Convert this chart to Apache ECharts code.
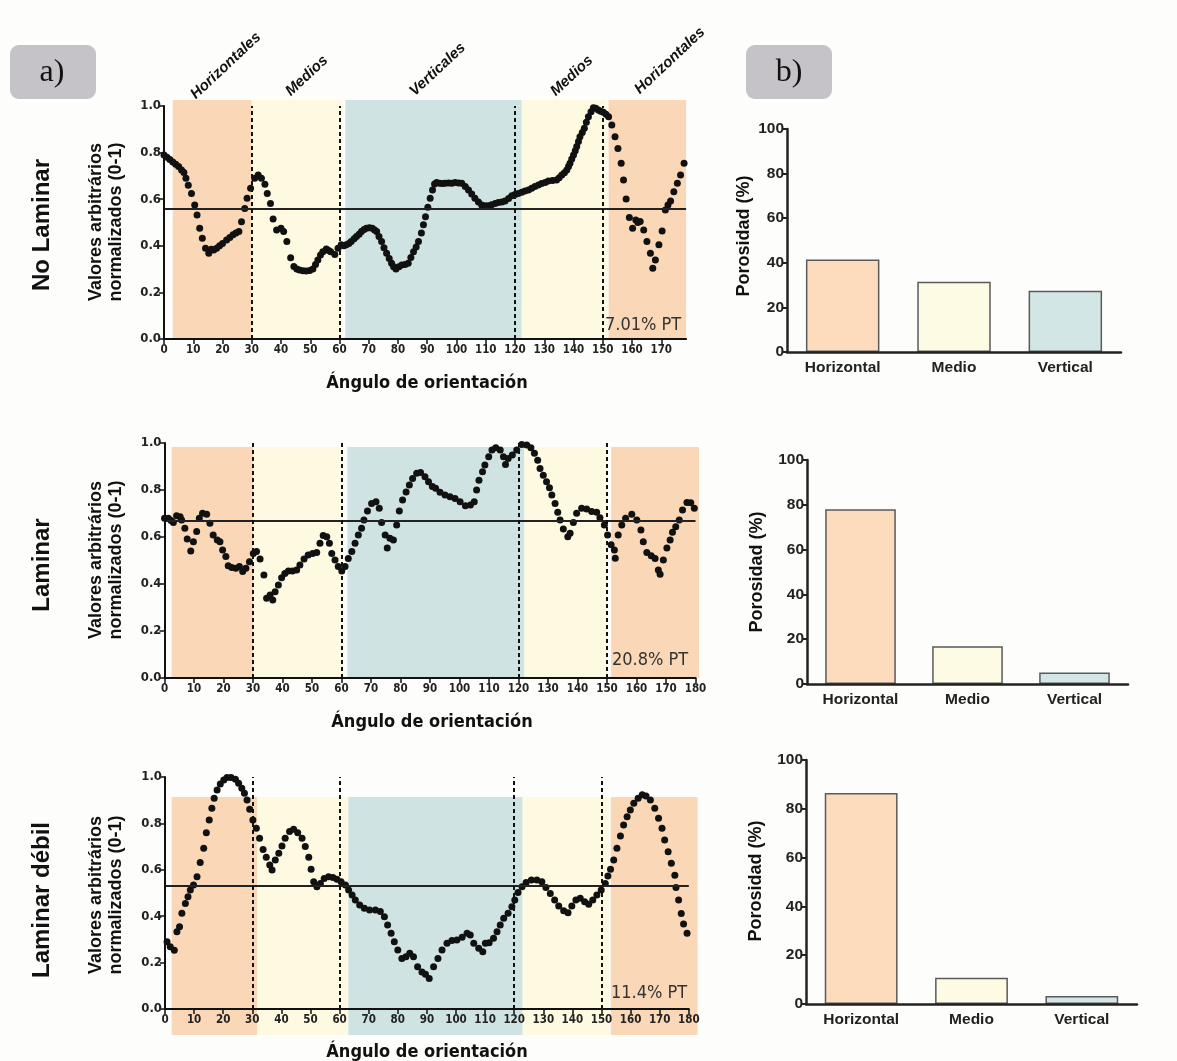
<!DOCTYPE html>
<html>
<head>
<meta charset="utf-8">
<script src="https://cdn.jsdelivr.net/npm/echarts@6/dist/echarts.min.js"></script>
<style>
  html, body { margin: 0; padding: 0; background: #fdfdfc; }
  #chart { width: 1177px; height: 1061px; }
</style>
</head>
<body>
<div id="chart"></div>
<script>
// ---- data: [angle, normalized value] ----
const noLaminar = [
  [0,0.79],[1,0.78],[2,0.77],[3,0.76],[4,0.75],[5,0.74],[6,0.725],[6.8,0.715],[7.5,0.69],[8.3,0.66],[9.4,0.625],[10.5,0.575],
  [11.3,0.532],[12.2,0.475],[13.1,0.432],[14.2,0.39],[15.3,0.368],[16.2,0.385],[17,0.382],[18,0.39],[19,0.40],[20,0.41],
  [21.4,0.425],[22.5,0.436],[23.6,0.447],[24.6,0.455],[25.6,0.461],[26.5,0.503],[27.6,0.56],[28.4,0.604],[29.6,0.647],
  [31,0.69],[32.2,0.704],[33.3,0.69],[34.5,0.664],[35.3,0.625],[36.4,0.582],[37.3,0.515],[38.5,0.468],[40,0.475],[40.9,0.461],
  [42,0.418],[43.3,0.349],[44.4,0.311],[45.4,0.30],[46.3,0.296],[47.5,0.293],[48.6,0.292],[49.8,0.294],[50.9,0.30],[51.8,0.32],
  [52.6,0.339],[53.5,0.36],[54.3,0.375],[55.5,0.386],[56.3,0.38],[57,0.375],[58.4,0.363],[59.5,0.389],[60.6,0.404],[61.5,0.40],
  [62.3,0.404],[63.2,0.41],[64,0.418],[65,0.43],[65.8,0.44],[66.7,0.45],[67.5,0.461],[68.4,0.47],[69.2,0.475],[70.2,0.478],
  [71.2,0.475],[72,0.468],[72.7,0.461],[73.5,0.44],[74.4,0.418],[75.2,0.392],[76.1,0.368],[77,0.345],[77.8,0.325],[78.5,0.31],
  [79.3,0.30],[80.3,0.31],[81.3,0.318],[82.4,0.32],[83.5,0.325],[84.4,0.35],[85.3,0.375],[86.2,0.395],[87,0.418],[88,0.455],
  [88.7,0.49],[89.4,0.525],[90.2,0.565],[91,0.604],[91.8,0.64],[92.5,0.665],[93.2,0.672],[94.2,0.668],[95.2,0.667],[96.1,0.668],
  [97.3,0.67],[98.4,0.668],[99.5,0.672],[100.7,0.67],[101.8,0.668],[103,0.655],[104.1,0.64],[105.2,0.622],[106.3,0.604],
  [107.5,0.588],[108.6,0.575],[109.8,0.572],[110.9,0.572],[112,0.576],[113.2,0.582],[114.3,0.586],[115.5,0.588],[116.6,0.592],
  [117.8,0.603],[118.9,0.615],[120,0.62],[121.1,0.625],[122.3,0.63],[123.4,0.635],[124.6,0.64],[125.7,0.647],[126.8,0.654],
  [128,0.661],[129.1,0.667],[130.3,0.672],[131.4,0.678],[132.8,0.68],[134.2,0.682],[135.1,0.692],[136,0.704],[136.9,0.714],
  [137.7,0.725],[138.3,0.74],[138.8,0.754],[139.4,0.772],[140,0.79],[140.6,0.808],[141.1,0.826],[141.7,0.848],[142.2,0.868],
  [143,0.886],[143.7,0.904],[144.4,0.93],[145.1,0.954],[146,0.975],[146.8,0.993],[147.6,0.99],[148.5,0.983],[149.3,0.978],
  [150.2,0.973],[151.1,0.965],[152,0.954],[153.1,0.918],[154.2,0.868],[155.2,0.818],[156.3,0.754],[157.1,0.682],[158,0.601],
  [159.1,0.521],[160.2,0.475],[161.3,0.511],[162,0.50],[162.8,0.504],[164,0.468],[165.1,0.418],[166.3,0.368],[167.1,0.304],
  [168,0.339],[169.2,0.404],[170.3,0.464],[171.4,0.554],[172.3,0.575],[173.2,0.592],[174.3,0.632],[175.5,0.668],[176.6,0.704],
  [177.8,0.754]
];
const laminar = [
  [0,0.68],[1.3,0.68],[2.2,0.67],[3,0.662],[4.1,0.69],[5.3,0.686],[5.8,0.672],[6.9,0.637],[7.7,0.592],[8.9,0.54],[9.8,0.58],
  [10.9,0.623],[11.8,0.68],[12.9,0.701],[14.3,0.697],[15.4,0.658],[16.5,0.609],[17.9,0.587],[18.8,0.58],[19.7,0.545],
  [20.8,0.517],[21.6,0.478],[22.8,0.47],[24.2,0.467],[25.4,0.474],[26.5,0.453],[27.6,0.467],[28.8,0.495],[30.1,0.53],
  [31.2,0.538],[32.4,0.506],[33.7,0.438],[34.6,0.339],[35.8,0.353],[36.7,0.332],[37.5,0.367],[38.6,0.396],[39.7,0.427],
  [40.8,0.445],[42,0.455],[43.4,0.455],[44.8,0.46],[45.9,0.481],[47.3,0.506],[48.7,0.523],[50.2,0.53],[51.6,0.534],
  [52.7,0.573],[53.8,0.606],[55,0.601],[55.9,0.573],[56.7,0.53],[57.8,0.502],[58.9,0.474],[60.1,0.455],[61.2,0.474],
  [62.3,0.509],[63.5,0.538],[64.6,0.573],[65.7,0.609],[66.8,0.637],[67.6,0.672],[68.8,0.711],[70.2,0.743],[71.7,0.75],
  [72.8,0.722],[73.6,0.662],[74.8,0.609],[75.5,0.553],[76.4,0.595],[77.6,0.587],[78.7,0.651],[79.6,0.711],[80.7,0.757],
  [81.9,0.792],[83,0.821],[84.1,0.849],[85.5,0.871],[86.8,0.875],[88.3,0.856],[89.5,0.835],[90.8,0.815],[91.9,0.807],
  [93.4,0.79],[95.1,0.779],[96.8,0.771],[98.5,0.764],[100.2,0.75],[102,0.733],[103.7,0.736],[105,0.75],[105.8,0.8],
  [106.6,0.842],[107.8,0.878],[108.6,0.906],[109.9,0.941],[111,0.97],[112.3,0.98],[113.8,0.97],[114.9,0.941],[115.6,0.909],
  [116.5,0.934],[117.9,0.949],[119.4,0.97],[121.1,0.994],[122.8,0.991],[124.2,0.98],[125.4,0.956],[126.5,0.927],
  [127.3,0.892],[128.4,0.863],[129.5,0.835],[130.5,0.81],[131.3,0.779],[132.4,0.743],[133.3,0.705],[134.1,0.672],
  [135.2,0.634],[136.7,0.601],[137.5,0.616],[138.6,0.662],[139.7,0.701],[141.4,0.722],[143.1,0.719],[144.8,0.708],
  [146.5,0.705],[147.6,0.682],[149.1,0.651],[150.2,0.609],[151.4,0.567],[152.5,0.545],[152.8,0.51],[153.8,0.609],
  [155,0.651],[156.3,0.68],[158.4,0.697],[160.1,0.672],[161.5,0.63],[162.3,0.58],[163.5,0.534],[165,0.52],[166.3,0.509],
  [167.4,0.46],[168,0.441],[169.1,0.502],[170.3,0.553],[171.4,0.587],[172.2,0.62],[173.3,0.644],[174.5,0.672],
  [175.6,0.715],[177.1,0.747],[178.4,0.746],[179.6,0.722],[180.3,0.69]
];
const laminarDebil = [
  [0.7,0.29],[1.8,0.268],[3.2,0.253],[4.1,0.333],[5,0.355],[5.8,0.413],[7,0.455],[7.9,0.484],[8.7,0.513],[9.8,0.535],
  [11,0.57],[12.1,0.631],[13.3,0.693],[14.2,0.76],[15.2,0.815],[16.1,0.865],[16.9,0.908],[17.9,0.944],[19,0.97],
  [20.2,0.987],[21.3,0.998],[22.7,0.998],[24.2,0.99],[25.3,0.973],[26.4,0.951],[27.3,0.93],[28.2,0.901],[29.1,0.861],
  [30.2,0.815],[31.4,0.779],[32.5,0.736],[33.7,0.688],[34.8,0.654],[36,0.621],[36.8,0.599],[37.9,0.642],[39.1,0.671],
  [40.2,0.703],[41.3,0.736],[42.8,0.765],[44.2,0.775],[45.6,0.76],[47.1,0.736],[48.2,0.7],[49.4,0.654],[50.2,0.602],
  [51.1,0.549],[52.2,0.527],[53.4,0.541],[54.7,0.563],[56.2,0.57],[57.7,0.567],[59.1,0.559],[60.5,0.549],[62,0.535],
  [63.1,0.513],[64.3,0.491],[65.4,0.47],[66.9,0.448],[68.5,0.434],[70.3,0.427],[72.3,0.427],[74,0.42],[75.4,0.398],
  [76.5,0.362],[77.7,0.326],[78.8,0.29],[80,0.254],[81.4,0.218],[82.8,0.225],[84.1,0.24],[85.4,0.225],[86.8,0.182],
  [88.3,0.16],[89.5,0.15],[90.8,0.131],[92.3,0.182],[93.8,0.218],[95.2,0.254],[96.9,0.283],[98.6,0.295],[100.3,0.297],
  [102.1,0.309],[103.8,0.326],[104.9,0.319],[106.1,0.283],[107.8,0.262],[109.2,0.247],[110.1,0.283],[111.4,0.286],
  [112.9,0.305],[114.1,0.333],[115.2,0.362],[116.4,0.391],[117.9,0.413],[119.2,0.441],[120.2,0.47],[121.3,0.502],
  [122.7,0.527],[124.1,0.545],[125.9,0.556],[127.8,0.556],[129.5,0.549],[130.9,0.524],[132.4,0.498],[133.9,0.47],
  [135.3,0.444],[137,0.424],[138.5,0.415],[139.8,0.444],[141.2,0.47],[142.7,0.477],[144.2,0.462],[145.6,0.451],
  [147,0.47],[148.4,0.491],[149.9,0.513],[151.3,0.541],[152.2,0.573],[153.1,0.602],[154.2,0.642],[155.3,0.693],
  [156.5,0.746],[157.6,0.793],[158.8,0.829],[159.9,0.858],[161.1,0.887],[162.6,0.908],[164,0.923],[165.3,0.918],
  [166.8,0.901],[168.3,0.865],[169.6,0.822],[170.8,0.779],[171.7,0.728],[172.9,0.678],[174,0.628],[175.2,0.577],
  [175.6,0.524],[176.5,0.47],[177.4,0.412],[178.2,0.366],[179.4,0.326],[180.2,0.312]
];

// mean line of each profile
const meanLines = [0.56, 0.665, 0.53];
// dashed separators between orientation classes
const separators = [30, 60, 120, 150];
// shaded orientation classes per panel: [start, end, class]
const bands = [
  [[3, 30, 0], [30, 61, 1], [62, 122.3, 2], [122.3, 151.3, 1], [152, 178.5, 0]],
  [[2.4, 30, 0], [30, 60.4, 1], [62, 122, 2], [122, 150.2, 1], [151.4, 181.2, 0]],
  [[2.3, 31.7, 0], [31.7, 63, 1], [63, 122.9, 2], [122.9, 152.7, 1], [153.2, 183, 0]]
];
const ptLabels = ['7.01% PT', '20.8% PT', '11.4% PT'];
const rowLabels = ['No Laminar', 'Laminar', 'Laminar débil'];
const topLabels = ['Horizontales', 'Medios', 'Verticales', 'Medios', 'Horizontales'];

// porosity bars
const barCategories = ['Horizontal', 'Medio', 'Vertical'];
const porosity = [
  [41.5, 31.5, 27.5],
  [78, 16.9, 5.1],
  [86.5, 10.8, 3.3]
];

const bandColors = ['#fad7b6', '#fefae1', '#cfe3e2'];
const barColors = ['#fddcbd', '#fefbe4', '#d3e6e6'];

const narrow = '"Liberation Sans Narrow", "DejaVu Sans Condensed", sans-serif';
const sans = '"Liberation Sans", Arial, sans-serif';

// layout of the three profile plots
const plots = [
  { left: 164, top: 106, ppd: 2.925, height: 233, max: 178.5, bandTop: 100, bandBottom: 339 },
  { left: 164.5, top: 443, ppd: 2.95, height: 235, max: 180, bandTop: 447, bandBottom: 678 },
  { left: 165, top: 777, ppd: 2.91, height: 232, max: 180, bandTop: 797, bandBottom: 1035 }
];
const barGrids = [
  { left: 787, top: 129, width: 334, height: 223 },
  { left: 807, top: 460, width: 321, height: 224 },
  { left: 806, top: 760, width: 331, height: 244 }
];
const profiles = [noLaminar, laminar, laminarDebil];

const chart = echarts.init(document.getElementById('chart'));

const grid = [], xAxis = [], yAxis = [], series = [];

plots.forEach((p, i) => {
  // plotting grid
  grid.push({ left: p.left, top: p.top, width: p.max * p.ppd, height: p.height });
  // band grid (background shading)
  const bandMax = bands[i][bands[i].length - 1][1];
  grid.push({ left: p.left, top: p.bandTop, width: bandMax * p.ppd, height: p.bandBottom - p.bandTop });
});
barGrids.forEach(g => grid.push(g));

plots.forEach((p, i) => {
  const gi = i * 2;
  xAxis.push({
    gridIndex: gi, type: 'value', min: 0, max: p.max, interval: 10, z: 5,
    axisLine: { lineStyle: { color: '#111', width: 2 } },
    axisTick: { length: 5, lineStyle: { color: '#111', width: 1.5 } },
    axisLabel: { color: '#222', fontWeight: 'bold', fontSize: 11.5, fontFamily: narrow, margin: 5,
      showMaxLabel: p.max === 180 },
    splitLine: { show: false }
  });
  yAxis.push({
    gridIndex: gi, type: 'value', min: 0, max: 1, interval: 0.2, z: 5,
    axisLine: { show: true, lineStyle: { color: '#111', width: 2 } },
    axisTick: { show: true, length: 5, lineStyle: { color: '#111', width: 1.5 } },
    axisLabel: { color: '#222', fontWeight: 'bold', fontSize: 13, fontFamily: narrow, margin: 3,
      formatter: v => v.toFixed(1) },
    splitLine: { show: false }
  });
  const bandMax = bands[i][bands[i].length - 1][1];
  xAxis.push({ gridIndex: gi + 1, type: 'value', min: 0, max: bandMax, show: false });
  yAxis.push({ gridIndex: gi + 1, type: 'value', min: 0, max: 1, show: false });
});

barGrids.forEach((g, i) => {
  xAxis.push({
    gridIndex: 6 + i, type: 'category', data: barCategories, z: 5,
    axisLine: { lineStyle: { color: '#222', width: 2.5 } },
    axisTick: { alignWithLabel: true, length: 6, lineStyle: { color: '#222', width: 2 } },
    axisLabel: { color: '#222', fontWeight: 'bold', fontSize: 15.5, fontFamily: sans, margin: 8 }
  });
  yAxis.push({
    gridIndex: 6 + i, type: 'value', min: 0, max: 100, interval: 20, z: 5,
    axisLine: { show: true, lineStyle: { color: '#222', width: 2.5 } },
    axisTick: { show: true, length: 5, lineStyle: { color: '#222', width: 2 } },
    axisLabel: { color: '#222', fontWeight: 'bold', fontSize: 15.5, fontFamily: sans, margin: 3 },
    splitLine: { show: false }
  });
});

plots.forEach((p, i) => {
  // background shading
  series.push({
    type: 'scatter', xAxisIndex: i * 2 + 1, yAxisIndex: i * 2 + 1, data: [], z: 0, silent: true,
    markArea: {
      silent: true, z: 0,
      data: bands[i].map(b => [
        { xAxis: b[0], itemStyle: { color: bandColors[b[2]] } },
        { xAxis: b[1] }
      ])
    }
  });
  // profile dots + reference lines
  series.push({
    type: 'scatter', xAxisIndex: i * 2, yAxisIndex: i * 2, data: profiles[i], z: 3,
    symbolSize: 7, itemStyle: { color: '#111', opacity: 1 },
    markLine: {
      silent: true, symbol: 'none', label: { show: false }, animation: false,
      data: [
        { yAxis: meanLines[i], lineStyle: { type: 'solid', width: 1.8, color: '#222' } },
        ...separators.map(s => ({ xAxis: s, lineStyle: { type: [4, 3], width: 2, color: '#111' } }))
      ]
    }
  });
});

porosity.forEach((vals, i) => {
  series.push({
    type: 'bar', xAxisIndex: 6 + i, yAxisIndex: 6 + i, barWidth: '66%',
    data: vals.map((v, k) => ({ value: v, itemStyle: { color: barColors[k] } })),
    itemStyle: { borderColor: '#5a5a5a', borderWidth: 1.5 }
  });
});

// ---- text annotations ----
const graphic = [];
const txt = (x, y, text, font, opts = {}) => ({
  type: 'text', x, y, rotation: opts.rotation || 0, z: 10,
  style: {
    text, font, fill: opts.fill || '#111',
    align: opts.align || 'center', verticalAlign: opts.vAlign || 'middle',
    textAlign: opts.align || 'center', textVerticalAlign: opts.vAlign || 'middle'
  }
});

// panel tags
[['a)', 10, 52], ['b)', 746, 789]].forEach(([t, x, cx]) => {
  graphic.push({ type: 'rect', shape: { x, y: 45, width: 86, height: 54, r: 9 }, style: { fill: '#c5c2c8' }, z: 10 });
  graphic.push(txt(cx, 73, t, '32px "Liberation Serif", serif'));
});

// rotated orientation names on top
const topPos = [[198, 102], [293, 99], [417, 99], [558, 99], [642, 97]];
topLabels.forEach((t, k) => {
  graphic.push(txt(topPos[k][0], topPos[k][1], t, 'italic bold 15px ' + sans,
    { rotation: 43 * Math.PI / 180, align: 'left', vAlign: 'bottom' }));
});

const rowCenters = [225, 565, 900];
const yNameCenters = [222, 560, 895];
const xNamePos = [[427, 383], [432, 722], [427, 1052]];
const ptPos = [[605, 325], [612, 660], [611, 993]];
plots.forEach((p, i) => {
  graphic.push(txt(42, rowCenters[i], rowLabels[i], 'bold 24px ' + sans, { rotation: Math.PI / 2 }));
  graphic.push(txt(96, yNameCenters[i], 'Valores arbitrários', 'bold 18px ' + sans, { rotation: Math.PI / 2 }));
  graphic.push(txt(116, yNameCenters[i], 'normalizados (0-1)', 'bold 18px ' + sans, { rotation: Math.PI / 2 }));
  graphic.push(txt(xNamePos[i][0], xNamePos[i][1], 'Ángulo de orientación', 'bold 18px ' + narrow));
  graphic.push(txt(ptPos[i][0], ptPos[i][1], ptLabels[i], '18px ' + narrow, { align: 'left', fill: '#333' }));
});

const porNamePos = [[744, 236], [757, 572], [756, 881]];
porNamePos.forEach(([x, y]) => {
  graphic.push(txt(x, y, 'Porosidad (%)', 'bold 18px ' + sans, { rotation: Math.PI / 2 }));
});

chart.setOption({
  animation: false,
  backgroundColor: '#fdfdfc',
  grid, xAxis, yAxis, series, graphic
});
</script>
</body>
</html>
